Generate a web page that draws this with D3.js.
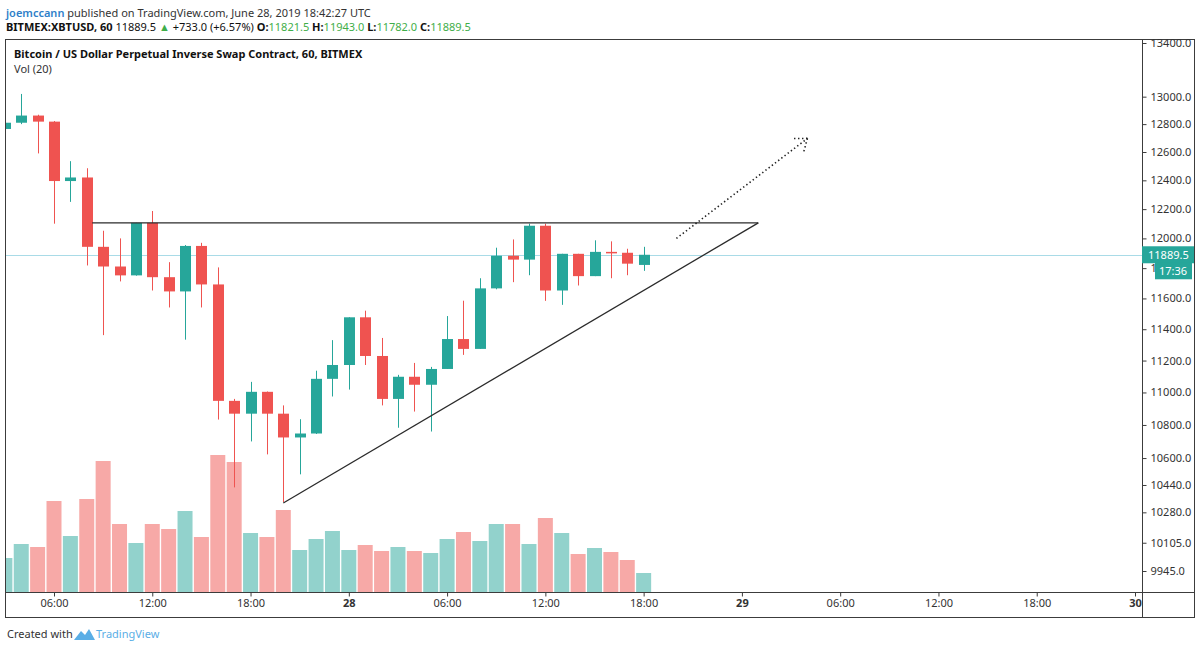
<!DOCTYPE html>
<html lang="en">
<head>
<meta charset="UTF-8">
<title>BITMEX:XBTUSD, 60</title>
<script src="https://d3js.org/d3.v7.min.js"></script>
<style>
  body { margin: 0; background: #fff; }
  svg { display: block; font-family: "Noto Sans", sans-serif; }
</style>
</head>
<body>
<svg id="chart"></svg>
<script>
// hourly bars, UTC
const times = [
  "2019-06-27 03:00", "2019-06-27 04:00", "2019-06-27 05:00", "2019-06-27 06:00",
  "2019-06-27 07:00", "2019-06-27 08:00", "2019-06-27 09:00", "2019-06-27 10:00",
  "2019-06-27 11:00", "2019-06-27 12:00", "2019-06-27 13:00", "2019-06-27 14:00",
  "2019-06-27 15:00", "2019-06-27 16:00", "2019-06-27 17:00", "2019-06-27 18:00",
  "2019-06-27 19:00", "2019-06-27 20:00", "2019-06-27 21:00", "2019-06-27 22:00",
  "2019-06-27 23:00", "2019-06-28 00:00", "2019-06-28 01:00", "2019-06-28 02:00",
  "2019-06-28 03:00", "2019-06-28 04:00", "2019-06-28 05:00", "2019-06-28 06:00",
  "2019-06-28 07:00", "2019-06-28 08:00", "2019-06-28 09:00", "2019-06-28 10:00",
  "2019-06-28 11:00", "2019-06-28 12:00", "2019-06-28 13:00", "2019-06-28 14:00",
  "2019-06-28 15:00", "2019-06-28 16:00", "2019-06-28 17:00", "2019-06-28 18:00"
];
const opens  = [12765, 12810, 12862, 12818, 12395, 12420, 11943, 11811, 11752, 12106, 11740, 11646, 11949, 11692, 10948, 10869, 11004, 10869, 10724, 10748,
                11085, 11172, 11477, 11229, 10960, 11098, 11048, 11147, 11337, 11274, 11666, 11883, 11857, 12086, 11652, 11896, 11747, 11909, 11903, 11821.5];
const highs  = [12825, 13020, 12868, 12822, 12535, 12485, 12052, 12000, 12106, 12187, 11840, 11955, 11970, 11805, 10960, 11066, 11006, 10920, 10835, 11136,
                11330, 11477, 11520, 11344, 11110, 11185, 11160, 11485, 11585, 11733, 11937, 11993, 12100, 12100, 11896, 11896, 11987, 11980, 11930, 11943];
const lows   = [12750, 12800, 12590, 12100, 12250, 11818, 11362, 11712, 11750, 11652, 11541, 11333, 11541, 10833, 10426, 10700, 10622, 10340, 10503, 10745,
                10975, 11018, 11172, 10920, 10783, 10882, 10760, 11147, 11236, 11274, 11660, 11707, 11753, 11584, 11558, 11685, 11747, 11733, 11753, 11782];
const closes = [12810, 12862, 12818, 12395, 12420, 11943, 11811, 11752, 12106, 11740, 11646, 11949, 11692, 10948, 10869, 11004, 10869, 10724, 10748, 11085,
                11172, 11477, 11229, 10960, 11098, 11048, 11147, 11337, 11274, 11666, 11883, 11857, 12086, 11652, 11896, 11747, 11909, 11903, 11830, 11889.5];
const volumes = [102, 144, 135, 273, 168, 279, 393, 204, 147, 204, 189, 243, 165, 411, 390, 177, 165, 246, 126, 159,
                 183, 126, 141, 123, 135, 123, 117, 159, 180, 153, 204, 204, 144, 222, 177, 114, 132, 120, 96, 57];

const priceTicks = [13400, 13000, 12800, 12600, 12400, 12200, 12000, 11800, 11600, 11400, 11200, 11000, 10800, 10600, 10440, 10280, 10105, 9945];
const timeTicks = ["2019-06-27 06:00", "2019-06-27 12:00", "2019-06-27 18:00", "2019-06-28 00:00", "2019-06-28 06:00", "2019-06-28 12:00",
                   "2019-06-28 18:00", "2019-06-29 00:00", "2019-06-29 06:00", "2019-06-29 12:00", "2019-06-29 18:00", "2019-06-30 00:00"];

// drawings: triangle + projected breakout arrow
const flatLine = { from: ["2019-06-27 08:20", 12106], to: ["2019-06-29 01:00", 12106] };
const riseLine = { from: ["2019-06-27 20:00", 10334], to: ["2019-06-29 01:00", 12106] };
const arrowLine = { from: ["2019-06-28 20:00", 12000], to: ["2019-06-29 04:00", 12697] };

const countdown = "17:36";
const change = "+733.0 (+6.57%)";

const width = 1200, height = 650;
const up = "#26a69a", down = "#ef5350";
const upVol = "rgba(38,166,154,0.5)", downVol = "rgba(239,83,80,0.5)";

const svg = d3.select("#chart").attr("width", width).attr("height", height);
const parse = d3.utcParse("%Y-%m-%d %H:%M");

const bars = times.map((t, i) => ({ t: parse(t), o: opens[i], h: highs[i], l: lows[i], c: closes[i], v: volumes[i] }));
const last = bars[bars.length - 1];

const paneLeft = 5, paneTop = 39, plotRight = 1142, plotBottom = 592, paneRight = 1195, paneBottom = 618;

const x = d3.scaleUtc()
    .domain([parse("2019-06-27 06:00"), parse("2019-06-30 00:00")])
    .range([54, 1135]);
const y = d3.scaleLog().domain([9945, 13400]).range([571, 43]);
const yVol = d3.scaleLinear().domain([0, d3.max(volumes)]).range([plotBottom, 455]);

const defs = svg.append("defs");
defs.append("clipPath").attr("id", "plot")
    .append("rect").attr("x", paneLeft).attr("y", paneTop)
    .attr("width", plotRight - paneLeft).attr("height", plotBottom - paneTop);
defs.append("clipPath").attr("id", "xaxis")
    .append("rect").attr("x", paneLeft).attr("y", plotBottom)
    .attr("width", plotRight - paneLeft).attr("height", paneBottom - plotBottom);

const plot = svg.append("g").attr("clip-path", "url(#plot)");

// volume
plot.append("g").selectAll("rect")
    .data(bars).enter().append("rect")
    .attr("x", d => x(d.t) - 7.5)
    .attr("width", 15)
    .attr("y", d => yVol(d.v))
    .attr("height", d => plotBottom - yVol(d.v))
    .attr("fill", d => d.c >= d.o ? upVol : downVol);

// last price line
plot.append("line")
    .attr("x1", paneLeft).attr("x2", plotRight)
    .attr("y1", Math.round(y(last.c)) + 0.5).attr("y2", Math.round(y(last.c)) + 0.5)
    .attr("stroke", "#a9dbe7").attr("stroke-width", 1);

// candles
const candle = plot.append("g").selectAll("g")
    .data(bars).enter().append("g");

candle.append("line")
    .attr("x1", d => Math.round(x(d.t)) + 0.5)
    .attr("x2", d => Math.round(x(d.t)) + 0.5)
    .attr("y1", d => y(d.h))
    .attr("y2", d => y(d.l))
    .attr("stroke", d => d.c >= d.o ? up : down)
    .attr("stroke-width", 1);

candle.append("rect")
    .attr("x", d => Math.round(x(d.t)) - 5)
    .attr("width", 11)
    .attr("y", d => y(Math.max(d.o, d.c)))
    .attr("height", d => Math.max(1.5, Math.abs(y(d.o) - y(d.c))))
    .attr("fill", d => d.c >= d.o ? up : down);

// trend lines
const pt = p => [x(parse(p[0])), y(p[1])];
[flatLine, riseLine].forEach(l => {
    const a = pt(l.from), b = pt(l.to);
    plot.append("line")
        .attr("x1", a[0]).attr("y1", a[1]).attr("x2", b[0]).attr("y2", b[1])
        .attr("stroke", "#2b2b2b").attr("stroke-width", 1.3);
});

const a0 = pt(arrowLine.from), a1 = pt(arrowLine.to);
const ang = Math.atan2(a0[1] - a1[1], a0[0] - a1[0]);
const head = 15, spread = 0.65;
const dotted = plot.append("g")
    .attr("stroke", "#222").attr("stroke-width", 1.6)
    .attr("stroke-dasharray", "1.4,2.6").attr("fill", "none");
dotted.append("line").attr("x1", a0[0]).attr("y1", a0[1]).attr("x2", a1[0]).attr("y2", a1[1]);
[-spread, spread].forEach(s => {
    dotted.append("line")
        .attr("x1", a1[0]).attr("y1", a1[1])
        .attr("x2", a1[0] + head * Math.cos(ang + s))
        .attr("y2", a1[1] + head * Math.sin(ang + s));
});

// frame
const frame = svg.append("g").attr("stroke", "#3c3c3c").attr("stroke-width", 1).attr("fill", "none");
frame.append("rect").attr("x", paneLeft + 0.5).attr("y", paneTop + 0.5)
    .attr("width", paneRight - paneLeft - 1).attr("height", paneBottom - paneTop - 1);
frame.append("line").attr("x1", plotRight + 0.5).attr("x2", plotRight + 0.5).attr("y1", paneTop).attr("y2", paneBottom);
frame.append("line").attr("x1", paneLeft).attr("x2", paneRight).attr("y1", plotBottom + 0.5).attr("y2", plotBottom + 0.5);

// price axis
const yAxis = svg.append("g")
    .attr("transform", `translate(${plotRight + 0.5},0)`)
    .call(d3.axisRight(y).tickValues(priceTicks).tickSize(4).tickPadding(4).tickFormat(d3.format(".1f")));
yAxis.select(".domain").remove();
yAxis.selectAll("line").attr("stroke", "#3c3c3c");
yAxis.selectAll("text").attr("fill", "#333").style("font-size", "11px").style("font-family", "Noto Sans, sans-serif");

// time axis (clipped at the price scale, so "30" is cut like the original)
const xAxis = svg.append("g")
    .attr("clip-path", "url(#xaxis)")
    .append("g")
    .attr("transform", `translate(0,${plotBottom + 0.5})`)
    .call(d3.axisBottom(x).tickValues(timeTicks.map(parse)).tickSize(4).tickPadding(3)
        .tickFormat(d => d.getUTCHours() === 0 ? d3.utcFormat("%-d")(d) : d3.utcFormat("%H:%M")(d)));
xAxis.select(".domain").remove();
xAxis.selectAll("line").attr("stroke", "#3c3c3c");
xAxis.selectAll("text").attr("fill", "#333").style("font-size", "11px").style("font-family", "Noto Sans, sans-serif")
    .style("font-weight", d => d.getUTCHours() === 0 ? "bold" : "normal");

// price tag + countdown
const yl = y(last.c);
svg.append("rect").attr("x", plotRight).attr("y", yl - 8.5).attr("width", 52).attr("height", 17).attr("fill", up);
svg.append("text").attr("x", plotRight + 6).attr("y", yl + 4).attr("fill", "#fff")
    .style("font-size", "11px").text(d3.format(".1f")(last.c));
svg.append("rect").attr("x", 1155).attr("y", yl + 7.5).attr("width", 37).attr("height", 17).attr("fill", up);
svg.append("text").attr("x", 1159).attr("y", yl + 20).attr("fill", "#fff")
    .style("font-size", "11px").text(countdown);

// header
const h1 = svg.append("text").attr("x", 6).attr("y", 17).style("font-size", "11px");
h1.append("tspan").attr("fill", "#2f7fc9").style("font-weight", "600").text("joemccann");
h1.append("tspan").attr("fill", "#333").text(" published on TradingView.com, June 28, 2019 18:42:27 UTC");

const green = "#3fae49";
const h2 = svg.append("text").attr("x", 6).attr("y", 31).attr("fill", "#111").style("font-size", "11px");
h2.append("tspan").style("font-weight", "bold").text("BITMEX:XBTUSD, 60");
h2.append("tspan").text(" " + d3.format(".1f")(last.c) + " ");
h2.append("tspan").attr("fill", green).text("▲");
h2.append("tspan").text(" " + change + " ");
[["O:", last.o], ["H:", last.h], ["L:", last.l], ["C:", last.c]].forEach((p, i) => {
    h2.append("tspan").style("font-weight", "bold").text((i ? " " : "") + p[0]);
    h2.append("tspan").attr("fill", green).text(d3.format(".1f")(p[1]));
});

svg.append("text").attr("x", 14).attr("y", 58).attr("fill", "#111")
    .style("font-size", "11px").style("font-weight", "bold")
    .text("Bitcoin / US Dollar Perpetual Inverse Swap Contract, 60, BITMEX");
svg.append("text").attr("x", 14).attr("y", 73).attr("fill", "#333")
    .style("font-size", "11px").text("Vol (20)");

// footer
svg.append("text").attr("x", 7).attr("y", 638).attr("fill", "#333").style("font-size", "11px").text("Created with");
svg.append("path")
    .attr("d", "M74,640 L81,631 L85,635 L89,629 L95,640 Z")
    .attr("fill", "#5aaee6");
svg.append("text").attr("x", 96).attr("y", 638).attr("fill", "#5aaee6").style("font-size", "11px").text("TradingView");
</script>
</body>
</html>
